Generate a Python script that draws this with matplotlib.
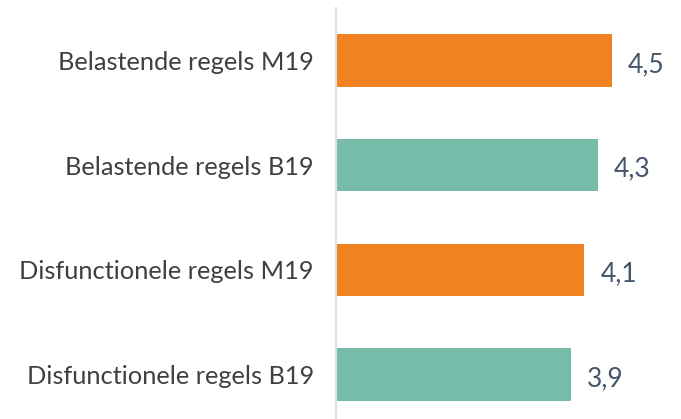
import matplotlib.pyplot as plt

categories = ['Belastende regels M19', 'Belastende regels B19',
              'Disfunctionele regels M19', 'Disfunctionele regels B19']
values = [4.5, 4.3, 4.1, 3.9]
labels = ['4,5', '4,3', '4,1', '3,9']
colors = ['#F08222', '#76BCA9', '#F08222', '#76BCA9']

plt.rcParams['font.family'] = ['Lato', 'DejaVu Sans']

fig = plt.figure(figsize=(6.81, 4.19), dpi=100)
ax = fig.add_axes([336 / 681, -8 / 419, 345 / 681, 419 / 419])

y = list(range(len(categories)))
ax.barh(y, values, height=0.5, color=colors)
ax.set_ylim(3.5, -0.5)
ax.set_xlim(0.5, 5.5)

for yi, v, lab in zip(y, values, labels):
    ax.annotate(lab, (v, yi), xytext=(11.5, -3), textcoords='offset points',
                ha='left', va='center', fontsize=19, color='#44546A')

ax.set_yticks(y)
ax.set_yticklabels(categories, fontsize=18.3, color='#404040')
ax.tick_params(axis='y', length=0, pad=16)
ax.set_xticks([])
for s in ['top', 'right', 'bottom']:
    ax.spines[s].set_visible(False)
ax.spines['left'].set_color('#D9DEE8')
ax.spines['left'].set_linewidth(1.5)

fig.savefig('out.png', dpi=100)
